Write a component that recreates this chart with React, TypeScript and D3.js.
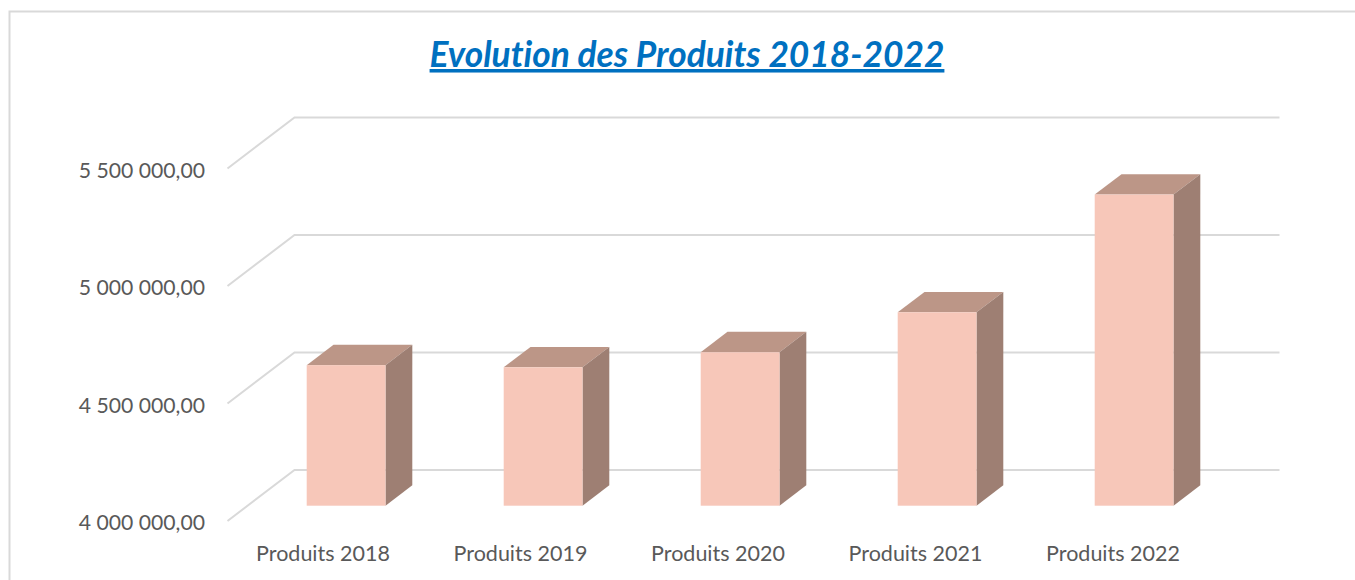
import React from 'react';
import * as d3 from 'd3';

const categories = ['Produits 2018', 'Produits 2019', 'Produits 2020', 'Produits 2021', 'Produits 2022'];
const values = [4598000, 4589000, 4653000, 4823000, 5324000];
const tickValues = [4000000, 4500000, 5000000, 5500000];
const tickLabels = ['4 000 000,00', '4 500 000,00', '5 000 000,00', '5 500 000,00'];

const width = 1355;
const height = 580;
const fontFamily = 'Lato, sans-serif';

// the floor/wall projection of the 3D chart
const depthX = 67;
const depthY = -51;
const barDepthStart = 0.3;
const barDepthEnd = 0.7;

const x = d3.scaleBand().domain(categories).range([227.5, 1212.5]).paddingInner(0.6).paddingOuter(0.3);
const y = d3.scaleLinear().domain([4000000, 5500000]).range([521, 168.5]);

const face = d3.line();

const App = () => {
  const baseline = y.domain()[0];
  return (
    <svg
      width={width}
      height={height}
      viewBox={`0 0 ${width} ${height}`}
      style={{ position: 'absolute', left: 0, top: 0, background: '#fff' }}
    >
      {/* chart frame: the right edge falls outside the crop */}
      <path d="M9.5,580V11.5H1355" fill="none" stroke="#d9d9d9" strokeWidth={2} />

      <text
        x={687}
        y={67}
        textAnchor="middle"
        fontFamily={fontFamily}
        fontSize={35.3}
        fontWeight={700}
        fontStyle="italic"
        textDecoration="underline"
        fill="#0070c0"
        style={{ fontVariantLigatures: 'none' }}
      >
        Evolution des Produits 2018-2022
      </text>

      {/* gridlines: slanted part on the side wall, then the back wall */}
      {tickValues.map(v => (
        <path
          key={v}
          d={face([
            [x.range()[0], y(v)],
            [x.range()[0] + depthX, y(v) + depthY],
            [x.range()[1] + depthX, y(v) + depthY],
          ]) as string}
          fill="none"
          stroke="#d9d9d9"
          strokeWidth={2}
        />
      ))}

      {tickValues.map((v, i) => (
        <text
          key={v}
          x={205}
          y={y(v) + 2}
          dy="0.35em"
          textAnchor="end"
          fontFamily={fontFamily}
          fontSize={21.2}
          fill="#595959"
        >
          {tickLabels[i]}
        </text>
      ))}

      {categories.map((c, i) => {
        const x0 = (x(c) as number) + depthX * barDepthStart;
        const x1 = x0 + x.bandwidth();
        const yBase = y(baseline) + depthY * barDepthStart;
        const yTop = y(values[i]) + depthY * barDepthStart;
        const dx = depthX * (barDepthEnd - barDepthStart);
        const dy = depthY * (barDepthEnd - barDepthStart);
        return (
          <g key={c}>
            <path
              d={face([[x0, yTop], [x0 + dx, yTop + dy], [x1 + dx, yTop + dy], [x1, yTop]]) + 'Z'}
              fill="#bc9687"
            />
            <path
              d={face([[x1, yTop], [x1 + dx, yTop + dy], [x1 + dx, yBase + dy], [x1, yBase]]) + 'Z'}
              fill="#9e7f73"
            />
            <rect x={x0} y={yTop} width={x.bandwidth()} height={yBase - yTop} fill="#f7c7b9" />
          </g>
        );
      })}

      {/* category labels run on a slightly wider step than the bars */}
      {categories.map((c, i) => (
        <text
          key={c}
          x={(x(c) as number) + x.bandwidth() / 2 - 3 + i * 0.5}
          y={561}
          textAnchor="middle"
          fontFamily={fontFamily}
          fontSize={21.5}
          fill="#595959"
          style={{ fontVariantLigatures: 'none' }}
        >
          {c}
        </text>
      ))}
    </svg>
  );
};

export default App;
